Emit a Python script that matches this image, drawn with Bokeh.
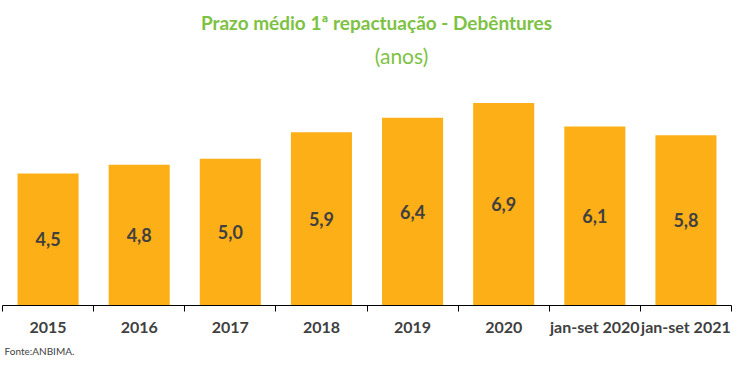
from bokeh.plotting import figure
from bokeh.models import Range1d, FixedTicker, ColumnDataSource, Title
from bokeh.embed import file_html
from bokeh.resources import INLINE
from bokeh.core.properties import value

categories = ["2015", "2016", "2017", "2018", "2019", "2020", "jan-set 2020", "jan-set 2021"]
values = [4.5, 4.8, 5.0, 5.9, 6.4, 6.9, 6.1, 5.8]
value_labels = [f"{v:.1f}".replace(".", ",") for v in values]
title_text = "Prazo médio 1ª repactuação - Debêntures"
subtitle_text = "(anos)"
source_text = "Fonte:ANBIMA."

xs = [i + 0.5 for i in range(len(categories))]
src = ColumnDataSource(dict(x=xs, top=values, mid=[v / 2 for v in values], lbl=value_labels))

FONT = "Lato"
GREEN = "#7DC242"
DARK = "#404040"

W, H = 740, 361
FRAME_H = 304
UNIT = 234 / 8.0  # px per year
p = figure(width=W, height=H, output_backend="svg", toolbar_location=None,
           x_range=Range1d(0, len(categories)), y_range=Range1d(0, FRAME_H / UNIT),
           min_border_left=2, min_border_right=W - 731, min_border_top=0, min_border_bottom=10)
p.outline_line_color = None
p.grid.visible = False
p.yaxis.visible = False
p.background_fill_color = "white"
p.border_fill_color = "white"

p.vbar(x="x", top="top", width=0.67, bottom=0, source=src, color="#FCAF17", line_color=None)
p.text(x="x", y="mid", text="lbl", source=src, text_align="center", text_baseline="middle",
       text_font=value(FONT), text_font_style="bold", text_font_size="18px", text_color=DARK)

# titles drawn inside the (extended) frame area
p.text(x=[(376 - 2) / 91.125], y=[(FRAME_H - 22) / UNIT], text=[title_text],
       text_align="center", text_baseline="middle", text_font=value(FONT),
       text_font_style="bold", text_font_size="19px", text_color=GREEN)
p.text(x=[(401 - 2) / 91.125], y=[(FRAME_H - 55) / UNIT], text=[subtitle_text],
       text_align="center", text_baseline="middle", text_font=value(FONT),
       text_font_style="normal", text_font_size="21px", text_color=GREEN)

ax = p.xaxis[0]
ax.ticker = FixedTicker(ticks=xs, minor_ticks=list(range(len(categories) + 1)))
ax.major_label_overrides = {x: c for x, c in zip(xs, categories)}
ax.major_tick_out = 0
ax.major_tick_in = 0
ax.minor_tick_out = 6
ax.minor_tick_in = 0
ax.minor_tick_line_color = "black"
ax.axis_line_color = "black"
ax.major_label_standoff = 5
ax.major_label_text_font = FONT
ax.major_label_text_font_style = "bold"
ax.major_label_text_font_size = "16px"
ax.major_label_text_color = DARK

src_title = Title(text=source_text, align="left", offset=2, text_font=FONT, text_font_style="normal",
                  text_font_size="10px", text_color=DARK, standoff=9)
p.add_layout(src_title, "below")

open("out.html", "w").write(file_html(p, INLINE))
